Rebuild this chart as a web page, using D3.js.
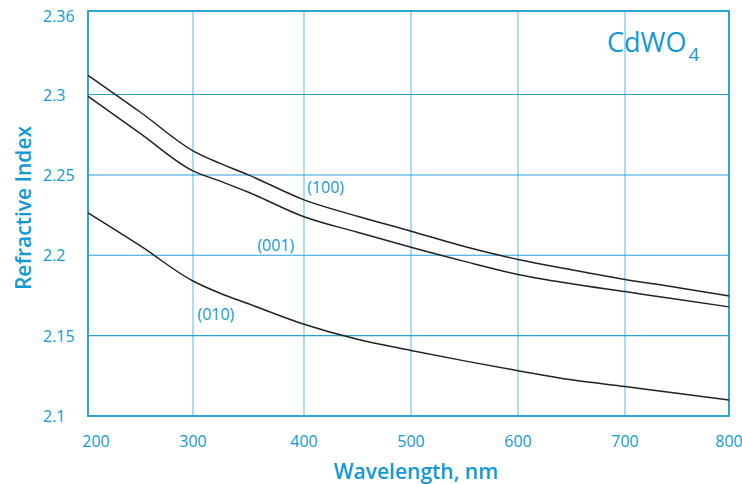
<!DOCTYPE html>
<html>
<head>
<meta charset="utf-8">
<script src="https://cdn.jsdelivr.net/npm/d3@7"></script>
<style>
  body { margin: 0; background: #fff; }
  text { font-family: "Open Sans", sans-serif; fill: #1199d6; font-weight: 500; }
</style>
</head>
<body>
<div class="graph-main"></div>
<script>
// data
const wavelengths = [200, 250, 300, 325, 350, 400, 450, 500, 550, 600, 650, 700, 750, 800];
const index100 = [2.312, 2.289, 2.265, 2.257, 2.250, 2.2345, 2.2243, 2.215, 2.2055, 2.1974, 2.191, 2.185, 2.180, 2.1747];
const index001 = [2.299, 2.2757, 2.2525, 2.246, 2.2392, 2.224, 2.2143, 2.205, 2.1962, 2.1881, 2.1823, 2.1774, 2.1726, 2.1679];
const index010 = [2.2264, 2.2058, 2.184, 2.1762, 2.1698, 2.1571, 2.1477, 2.1408, 2.1343, 2.1282, 2.1225, 2.1183, 2.1141, 2.110];

const xTicks = [200, 300, 400, 500, 600, 700, 800];
const yTicks = [2.1, 2.15, 2.2, 2.25, 2.3];
const yTopLabel = "2.36";
const yMax = 2.352;

const seriesLabels = [
  { name: "(100)", wl: 403, val: 2.2385 },
  { name: "(001)", wl: 358, val: 2.2025 },
  { name: "(010)", wl: 304, val: 2.1595 }
];

// canvas
const width = 742;
const height = 484;
const blue = "#1a9ad6";

const svg = d3.select(".graph-main")
  .append("svg")
  .attr("width", width)
  .attr("height", height);

// scales (grid in the picture is not quite evenly spaced)
const xScale = d3.scaleLinear()
  .domain(xTicks)
  .range([88, 193, 304, 411, 518, 625, 729]);

const yScale = d3.scaleLinear()
  .domain([2.1, yMax])
  .range([416, 11]);

const x0 = xScale(200), x1 = xScale(800);
const y0 = yScale(2.1), y1 = yScale(yMax);

// grid: vertical
svg.append("g")
  .selectAll("line")
  .data(xTicks.slice(1, -1))
  .enter()
  .append("line")
  .attr("x1", d => xScale(d))
  .attr("x2", d => xScale(d))
  .attr("y1", y1)
  .attr("y2", y0)
  .attr("stroke", "#86cdee")
  .attr("stroke-width", 1.4);

// grid: horizontal
svg.append("g")
  .selectAll("line")
  .data(yTicks.slice(1))
  .enter()
  .append("line")
  .attr("x1", x0)
  .attr("x2", x1)
  .attr("y1", d => yScale(d))
  .attr("y2", d => yScale(d))
  .attr("stroke", "#2aa0d9")
  .attr("stroke-width", 1.1);

// frame
svg.append("rect")
  .attr("x", x0)
  .attr("y", y1)
  .attr("width", x1 - x0)
  .attr("height", y0 - y1)
  .attr("fill", "none")
  .attr("stroke", blue)
  .attr("stroke-width", 1.8);

// tick labels
svg.append("g")
  .selectAll("text")
  .data(xTicks)
  .enter()
  .append("text")
  .attr("x", (d, i) => xScale(d) + (i === 0 ? 8 : 0))
  .attr("y", y0 + 31)
  .attr("text-anchor", "middle")
  .style("font-size", "16px")
  .text(d => d);

svg.append("g")
  .selectAll("text")
  .data(yTicks)
  .enter()
  .append("text")
  .attr("x", 43)
  .attr("y", d => yScale(d) + 6)
  .style("font-size", "16px")
  .text(d => d);

svg.append("text")
  .attr("x", 43)
  .attr("y", yScale(yMax) + 11)
  .style("font-size", "16px")
  .text(yTopLabel);

// axis titles
svg.append("text")
  .attr("x", 416)
  .attr("y", 479)
  .attr("text-anchor", "middle")
  .style("font-size", "21px")
  .style("font-weight", 600)
  .text("Wavelength, nm");

svg.append("text")
  .attr("transform", "translate(31,208) rotate(-90)")
  .attr("text-anchor", "middle")
  .style("font-size", "21px")
  .style("font-weight", 600)
  .text("Refractive Index");

// title
const title = svg.append("text")
  .attr("x", 607)
  .attr("y", 52)
  .style("font-size", "27px");
title.append("tspan").text("CdWO");
title.append("tspan")
  .attr("dx", 2)
  .attr("dy", 9)
  .style("font-size", "19px")
  .text("4");

// curves
const line = d3.line()
  .x((d, i) => xScale(wavelengths[i]))
  .y(d => yScale(d))
  .curve(d3.curveMonotoneX);

svg.append("g")
  .selectAll("path")
  .data([index100, index001, index010])
  .enter()
  .append("path")
  .attr("d", d => line(d))
  .attr("fill", "none")
  .attr("stroke", "#222")
  .attr("stroke-width", 1.5);

// curve labels
svg.append("g")
  .selectAll("text")
  .data(seriesLabels)
  .enter()
  .append("text")
  .attr("x", d => xScale(d.wl))
  .attr("y", d => yScale(d.val))
  .style("font-size", "16px")
  .text(d => d.name);
</script>
</body>
</html>
